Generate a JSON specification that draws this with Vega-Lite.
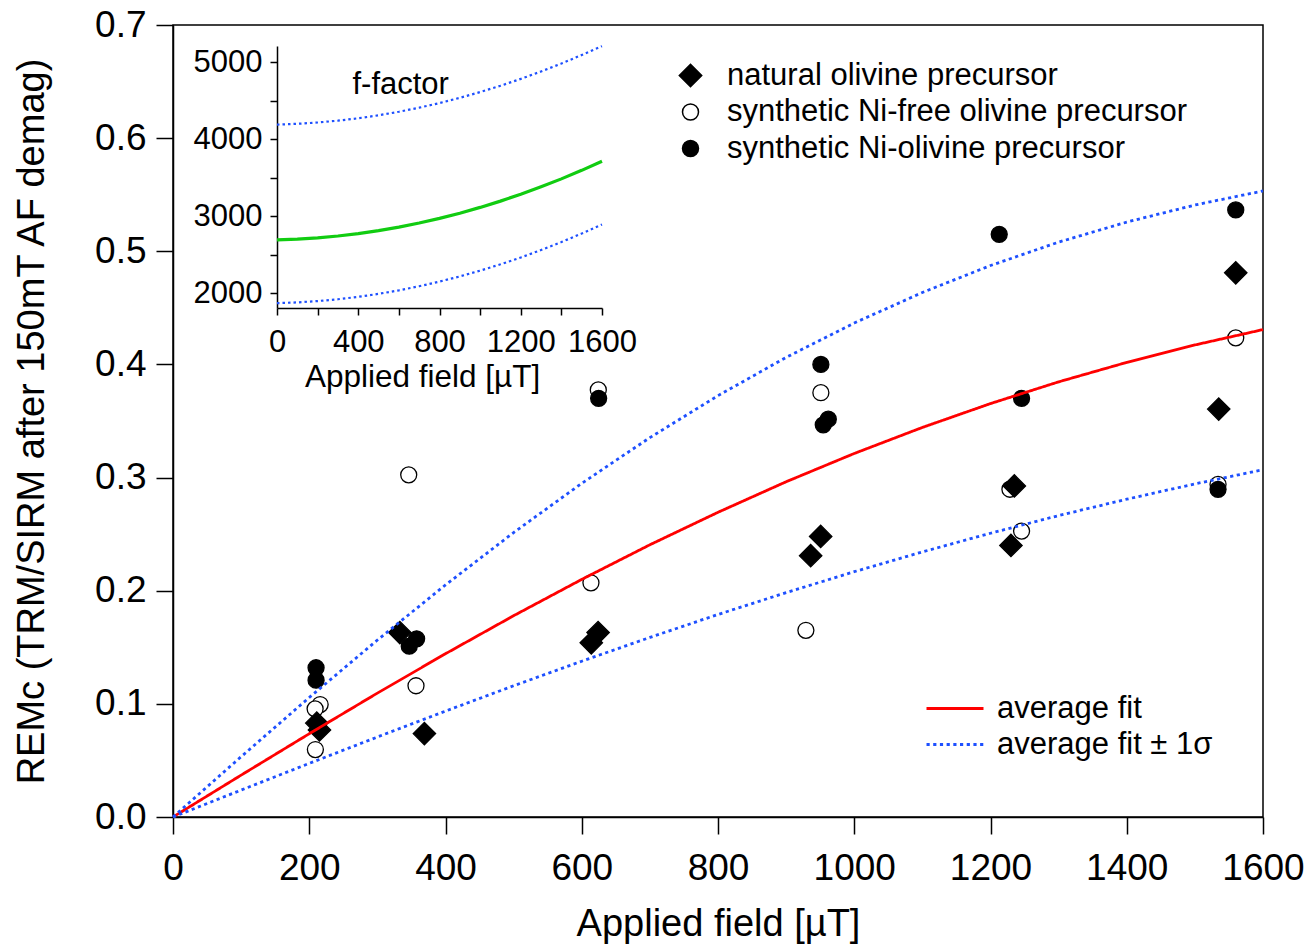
{
  "$schema": "https://vega.github.io/schema/vega-lite/v6.json",
  "width": 1090,
  "height": 792,
  "autosize": {"type": "none"},
  "padding": {"left": 173, "top": 25, "right": 46, "bottom": 127},
  "background": "white",
  "config": {
    "font": "Liberation Sans",
    "view": {"stroke": "black", "strokeWidth": 1.5},
    "axis": {"grid": false, "domainColor": "black", "domainWidth": 1.5, "tickColor": "black", "tickWidth": 1.5, "labelColor": "black", "titleColor": "black", "titleFontWeight": "normal", "labelFont": "Liberation Sans", "titleFont": "Liberation Sans", "labelFlush": false, "labelOverlap": false},
    "legend": {"labelFont": "Liberation Sans", "labelColor": "black", "labelFontSize": 31, "labelLimit": 0}
  },
  "datasets": {
    "pts": [
      {"type": "synthetic Ni-free olivine precursor", "B": 216, "remc": 0.0994},
      {"type": "synthetic Ni-free olivine precursor", "B": 208.6, "remc": 0.0956},
      {"type": "synthetic Ni-free olivine precursor", "B": 209, "remc": 0.0596},
      {"type": "synthetic Ni-free olivine precursor", "B": 356.7, "remc": 0.116},
      {"type": "synthetic Ni-free olivine precursor", "B": 346, "remc": 0.3024},
      {"type": "synthetic Ni-free olivine precursor", "B": 624.3, "remc": 0.3775},
      {"type": "synthetic Ni-free olivine precursor", "B": 613.5, "remc": 0.207},
      {"type": "synthetic Ni-free olivine precursor", "B": 951, "remc": 0.375},
      {"type": "synthetic Ni-free olivine precursor", "B": 929, "remc": 0.165},
      {"type": "synthetic Ni-free olivine precursor", "B": 1228.5, "remc": 0.2897},
      {"type": "synthetic Ni-free olivine precursor", "B": 1245.6, "remc": 0.2527},
      {"type": "synthetic Ni-free olivine precursor", "B": 1534, "remc": 0.294},
      {"type": "synthetic Ni-free olivine precursor", "B": 1560, "remc": 0.4235},
      {"type": "natural olivine precursor", "B": 211, "remc": 0.083},
      {"type": "natural olivine precursor", "B": 215, "remc": 0.077},
      {"type": "natural olivine precursor", "B": 333, "remc": 0.163},
      {"type": "natural olivine precursor", "B": 369, "remc": 0.0737},
      {"type": "natural olivine precursor", "B": 614, "remc": 0.154},
      {"type": "natural olivine precursor", "B": 624, "remc": 0.163},
      {"type": "natural olivine precursor", "B": 936, "remc": 0.231},
      {"type": "natural olivine precursor", "B": 950.7, "remc": 0.248},
      {"type": "natural olivine precursor", "B": 1230, "remc": 0.24},
      {"type": "natural olivine precursor", "B": 1235, "remc": 0.2926},
      {"type": "natural olivine precursor", "B": 1535, "remc": 0.3605},
      {"type": "natural olivine precursor", "B": 1560, "remc": 0.481},
      {"type": "synthetic Ni-olivine precursor", "B": 210, "remc": 0.1319},
      {"type": "synthetic Ni-olivine precursor", "B": 210, "remc": 0.1209},
      {"type": "synthetic Ni-olivine precursor", "B": 346.8, "remc": 0.151},
      {"type": "synthetic Ni-olivine precursor", "B": 357.6, "remc": 0.1575},
      {"type": "synthetic Ni-olivine precursor", "B": 624.8, "remc": 0.37},
      {"type": "synthetic Ni-olivine precursor", "B": 951, "remc": 0.4},
      {"type": "synthetic Ni-olivine precursor", "B": 954.5, "remc": 0.3466},
      {"type": "synthetic Ni-olivine precursor", "B": 961.9, "remc": 0.3516},
      {"type": "synthetic Ni-olivine precursor", "B": 1212.8, "remc": 0.515},
      {"type": "synthetic Ni-olivine precursor", "B": 1245.6, "remc": 0.37},
      {"type": "synthetic Ni-olivine precursor", "B": 1534, "remc": 0.2896},
      {"type": "synthetic Ni-olivine precursor", "B": 1560, "remc": 0.5366}
    ],
    "fit": [
      {"series": "average fit", "curve": "avg", "B": 0, "remc": 0},
      {"series": "average fit", "curve": "avg", "B": 100, "remc": 0.0370},
      {"series": "average fit", "curve": "avg", "B": 200, "remc": 0.0736},
      {"series": "average fit", "curve": "avg", "B": 300, "remc": 0.1095},
      {"series": "average fit", "curve": "avg", "B": 400, "remc": 0.1443},
      {"series": "average fit", "curve": "avg", "B": 500, "remc": 0.1779},
      {"series": "average fit", "curve": "avg", "B": 600, "remc": 0.2100},
      {"series": "average fit", "curve": "avg", "B": 700, "remc": 0.2406},
      {"series": "average fit", "curve": "avg", "B": 800, "remc": 0.2693},
      {"series": "average fit", "curve": "avg", "B": 900, "remc": 0.2963},
      {"series": "average fit", "curve": "avg", "B": 1000, "remc": 0.3213},
      {"series": "average fit", "curve": "avg", "B": 1100, "remc": 0.3443},
      {"series": "average fit", "curve": "avg", "B": 1200, "remc": 0.3654},
      {"series": "average fit", "curve": "avg", "B": 1300, "remc": 0.3846},
      {"series": "average fit", "curve": "avg", "B": 1400, "remc": 0.4018},
      {"series": "average fit", "curve": "avg", "B": 1500, "remc": 0.4172},
      {"series": "average fit", "curve": "avg", "B": 1600, "remc": 0.4308},
      {"series": "average fit ± 1σ", "curve": "hi", "B": 0, "remc": 0},
      {"series": "average fit ± 1σ", "curve": "hi", "B": 100, "remc": 0.0533},
      {"series": "average fit ± 1σ", "curve": "hi", "B": 200, "remc": 0.1056},
      {"series": "average fit ± 1σ", "curve": "hi", "B": 300, "remc": 0.1564},
      {"series": "average fit ± 1σ", "curve": "hi", "B": 400, "remc": 0.2051},
      {"series": "average fit ± 1σ", "curve": "hi", "B": 500, "remc": 0.2514},
      {"series": "average fit ± 1σ", "curve": "hi", "B": 600, "remc": 0.2949},
      {"series": "average fit ± 1σ", "curve": "hi", "B": 700, "remc": 0.3353},
      {"series": "average fit ± 1σ", "curve": "hi", "B": 800, "remc": 0.3724},
      {"series": "average fit ± 1σ", "curve": "hi", "B": 900, "remc": 0.4062},
      {"series": "average fit ± 1σ", "curve": "hi", "B": 1000, "remc": 0.4366},
      {"series": "average fit ± 1σ", "curve": "hi", "B": 1100, "remc": 0.4636},
      {"series": "average fit ± 1σ", "curve": "hi", "B": 1200, "remc": 0.4874},
      {"series": "average fit ± 1σ", "curve": "hi", "B": 1300, "remc": 0.5081},
      {"series": "average fit ± 1σ", "curve": "hi", "B": 1400, "remc": 0.5258},
      {"series": "average fit ± 1σ", "curve": "hi", "B": 1500, "remc": 0.5409},
      {"series": "average fit ± 1σ", "curve": "hi", "B": 1600, "remc": 0.5533},
      {"series": "average fit ± 1σ", "curve": "lo", "B": 0, "remc": 0},
      {"series": "average fit ± 1σ", "curve": "lo", "B": 100, "remc": 0.0238},
      {"series": "average fit ± 1σ", "curve": "lo", "B": 200, "remc": 0.0474},
      {"series": "average fit ± 1σ", "curve": "lo", "B": 300, "remc": 0.0707},
      {"series": "average fit ± 1σ", "curve": "lo", "B": 400, "remc": 0.0936},
      {"series": "average fit ± 1σ", "curve": "lo", "B": 500, "remc": 0.1160},
      {"series": "average fit ± 1σ", "curve": "lo", "B": 600, "remc": 0.1377},
      {"series": "average fit ± 1σ", "curve": "lo", "B": 700, "remc": 0.1587},
      {"series": "average fit ± 1σ", "curve": "lo", "B": 800, "remc": 0.1790},
      {"series": "average fit ± 1σ", "curve": "lo", "B": 900, "remc": 0.1983},
      {"series": "average fit ± 1σ", "curve": "lo", "B": 1000, "remc": 0.2168},
      {"series": "average fit ± 1σ", "curve": "lo", "B": 1100, "remc": 0.2343},
      {"series": "average fit ± 1σ", "curve": "lo", "B": 1200, "remc": 0.2508},
      {"series": "average fit ± 1σ", "curve": "lo", "B": 1300, "remc": 0.2664},
      {"series": "average fit ± 1σ", "curve": "lo", "B": 1400, "remc": 0.2809},
      {"series": "average fit ± 1σ", "curve": "lo", "B": 1500, "remc": 0.2944},
      {"series": "average fit ± 1σ", "curve": "lo", "B": 1600, "remc": 0.3069}
    ],
    "ffmid": [
      {"B": 0, "f": 2690}, {"B": 100, "f": 2700}, {"B": 200, "f": 2717}, {"B": 300, "f": 2741},
      {"B": 400, "f": 2772}, {"B": 500, "f": 2811}, {"B": 600, "f": 2857}, {"B": 700, "f": 2910},
      {"B": 800, "f": 2970}, {"B": 900, "f": 3038}, {"B": 1000, "f": 3113}, {"B": 1100, "f": 3195},
      {"B": 1200, "f": 3284}, {"B": 1300, "f": 3381}, {"B": 1400, "f": 3484}, {"B": 1500, "f": 3595},
      {"B": 1600, "f": 3714}
    ],
    "ffband": [
      {"curve": "hi", "B": 0, "f": 4190}, {"curve": "hi", "B": 100, "f": 4200}, {"curve": "hi", "B": 200, "f": 4217},
      {"curve": "hi", "B": 300, "f": 4241}, {"curve": "hi", "B": 400, "f": 4272}, {"curve": "hi", "B": 500, "f": 4311},
      {"curve": "hi", "B": 600, "f": 4357}, {"curve": "hi", "B": 700, "f": 4410}, {"curve": "hi", "B": 800, "f": 4470},
      {"curve": "hi", "B": 900, "f": 4538}, {"curve": "hi", "B": 1000, "f": 4613}, {"curve": "hi", "B": 1100, "f": 4695},
      {"curve": "hi", "B": 1200, "f": 4784}, {"curve": "hi", "B": 1300, "f": 4881}, {"curve": "hi", "B": 1400, "f": 4984},
      {"curve": "hi", "B": 1500, "f": 5095}, {"curve": "hi", "B": 1600, "f": 5210},
      {"curve": "lo", "B": 0, "f": 1868}, {"curve": "lo", "B": 100, "f": 1878}, {"curve": "lo", "B": 200, "f": 1895},
      {"curve": "lo", "B": 300, "f": 1919}, {"curve": "lo", "B": 400, "f": 1950}, {"curve": "lo", "B": 500, "f": 1989},
      {"curve": "lo", "B": 600, "f": 2035}, {"curve": "lo", "B": 700, "f": 2088}, {"curve": "lo", "B": 800, "f": 2148},
      {"curve": "lo", "B": 900, "f": 2216}, {"curve": "lo", "B": 1000, "f": 2291}, {"curve": "lo", "B": 1100, "f": 2373},
      {"curve": "lo", "B": 1200, "f": 2462}, {"curve": "lo", "B": 1300, "f": 2559}, {"curve": "lo", "B": 1400, "f": 2662},
      {"curve": "lo", "B": 1500, "f": 2773}, {"curve": "lo", "B": 1600, "f": 2892}
    ],
    "note": [
      {"label": "f-factor"}
    ]
  },
  "layer": [
    {
      "layer": [
        {
          "data": {"name": "pts"},
          "mark": {"type": "point", "stroke": "black", "strokeWidth": 1.3, "opacity": 1, "fillOpacity": 1, "size": 256},
          "encoding": {
            "x": {"field": "B", "type": "quantitative", "scale": {"domain": [0, 1600], "nice": false, "zero": false},
                  "axis": {"orient": "bottom", "values": [0, 200, 400, 600, 800, 1000, 1200, 1400, 1600], "format": "d", "tickSize": 17, "labelPadding": 16, "labelFontSize": 37, "titleFontSize": 38, "titlePadding": 19},
                  "title": "Applied field [µT]"},
            "y": {"field": "remc", "type": "quantitative", "scale": {"domain": [0, 0.7], "nice": false},
                  "axis": {"orient": "left", "values": [0, 0.1, 0.2, 0.3, 0.4, 0.5, 0.6, 0.7], "format": ".1f", "tickSize": 17, "labelPadding": 10, "labelFontSize": 37, "titleFontSize": 38, "titlePadding": 43},
                  "title": "REMc (TRM/SIRM after 150mT AF demag)"},
            "shape": {"field": "type", "type": "nominal",
                      "scale": {"domain": ["natural olivine precursor", "synthetic Ni-free olivine precursor", "synthetic Ni-olivine precursor"], "range": ["M-1.4,0L0,-1.4L1.4,0L0,1.4Z", "circle", "circle"]},
                      "legend": {"title": null, "orient": "none", "legendX": 502, "legendY": 35, "labelFontSize": 31, "labelOffset": 21, "labelLimit": 0, "rowPadding": 4.5, "symbolSize": 256,
                                 "encode": {"symbols": {"update": {"stroke": {"value": "black"}, "strokeWidth": {"value": 1.3}}}}}},
            "fill": {"field": "type", "type": "nominal",
                     "scale": {"domain": ["natural olivine precursor", "synthetic Ni-free olivine precursor", "synthetic Ni-olivine precursor"], "range": ["black", "white", "black"]},
                     "legend": {"title": null, "orient": "none", "legendX": 502, "legendY": 35, "labelFontSize": 31, "labelOffset": 21, "labelLimit": 0, "rowPadding": 4.5, "symbolSize": 256,
                                "encode": {"symbols": {"update": {"stroke": {"value": "black"}, "strokeWidth": {"value": 1.3}}}}}}
          }
        },
        {
          "data": {"name": "fit"},
          "mark": {"type": "line", "strokeWidth": 2.8},
          "encoding": {
            "x": {"field": "B", "type": "quantitative"},
            "y": {"field": "remc", "type": "quantitative"},
            "detail": {"field": "curve", "type": "nominal"},
            "stroke": {"field": "series", "type": "nominal",
                       "scale": {"domain": ["average fit", "average fit ± 1σ"], "range": ["#ff0000", "#1e50ff"]},
                       "legend": {"title": null, "orient": "none", "legendX": 752, "legendY": 668, "labelFontSize": 31, "labelOffset": 12, "labelLimit": 0, "rowPadding": 4, "clipHeight": 31, "symbolType": "stroke", "symbolSize": 3249, "symbolStrokeWidth": 2.8}},
            "strokeDash": {"field": "series", "type": "nominal",
                           "scale": {"domain": ["average fit", "average fit ± 1σ"], "range": [[1, 0], [3.2, 3.5]]},
                           "legend": {"title": null, "orient": "none", "legendX": 752, "legendY": 668, "labelFontSize": 31, "labelOffset": 12, "labelLimit": 0, "rowPadding": 4, "clipHeight": 31, "symbolType": "stroke", "symbolSize": 3249, "symbolStrokeWidth": 2.8}}
          }
        }
      ]
    },
    {
      "layer": [
        {
          "mark": {"type": "rect", "fill": "white", "stroke": "black", "strokeWidth": 1.5},
          "encoding": {
            "x": {"datum": 0, "type": "quantitative",
                  "scale": {"domain": [0, 1600], "range": [104, 429], "nice": false, "zero": false},
                  "axis": {"orient": "bottom", "offset": -509, "values": [0, 200, 400, 600, 800, 1000, 1200, 1400, 1600], "format": "d", "labelExpr": "datum.value % 400 === 0 ? datum.label : ''", "tickSize": 7, "labelPadding": 12, "labelFontSize": 31, "titleFontSize": 31.5, "titlePadding": 4, "titleX": 249, "title": "Applied field [µT]"}},
            "x2": {"datum": 1600},
            "y": {"datum": 1805, "type": "quantitative",
                  "scale": {"domain": [1805, 5212], "range": [283, 21], "nice": false, "zero": false},
                  "axis": {"orient": "left", "offset": -104, "values": [2000, 2500, 3000, 3500, 4000, 4500, 5000], "format": "d", "labelExpr": "datum.value % 1000 === 0 ? datum.label : ''", "tickSize": 7, "labelPadding": 8, "labelFontSize": 31, "title": null}},
            "y2": {"datum": 5212}
          }
        },
        {
          "data": {"name": "ffmid"},
          "mark": {"type": "line", "stroke": "#11cc11", "strokeWidth": 3.2},
          "encoding": {
            "x": {"field": "B", "type": "quantitative"},
            "y": {"field": "f", "type": "quantitative"}
          }
        },
        {
          "data": {"name": "ffband"},
          "mark": {"type": "line", "stroke": "#1e50ff", "strokeWidth": 2.2, "strokeDash": [2.5, 3]},
          "encoding": {
            "x": {"field": "B", "type": "quantitative"},
            "y": {"field": "f", "type": "quantitative"},
            "detail": {"field": "curve", "type": "nominal"}
          }
        },
        {
          "data": {"name": "note"},
          "mark": {"type": "text", "fontSize": 31, "align": "center", "baseline": "alphabetic", "fill": "black", "font": "Liberation Sans"},
          "encoding": {
            "x": {"datum": 609, "type": "quantitative"},
            "y": {"datum": 4590, "type": "quantitative"},
            "text": {"field": "label", "type": "nominal"}
          }
        }
      ]
    }
  ],
  "resolve": {"scale": {"x": "independent", "y": "independent"}}
}
